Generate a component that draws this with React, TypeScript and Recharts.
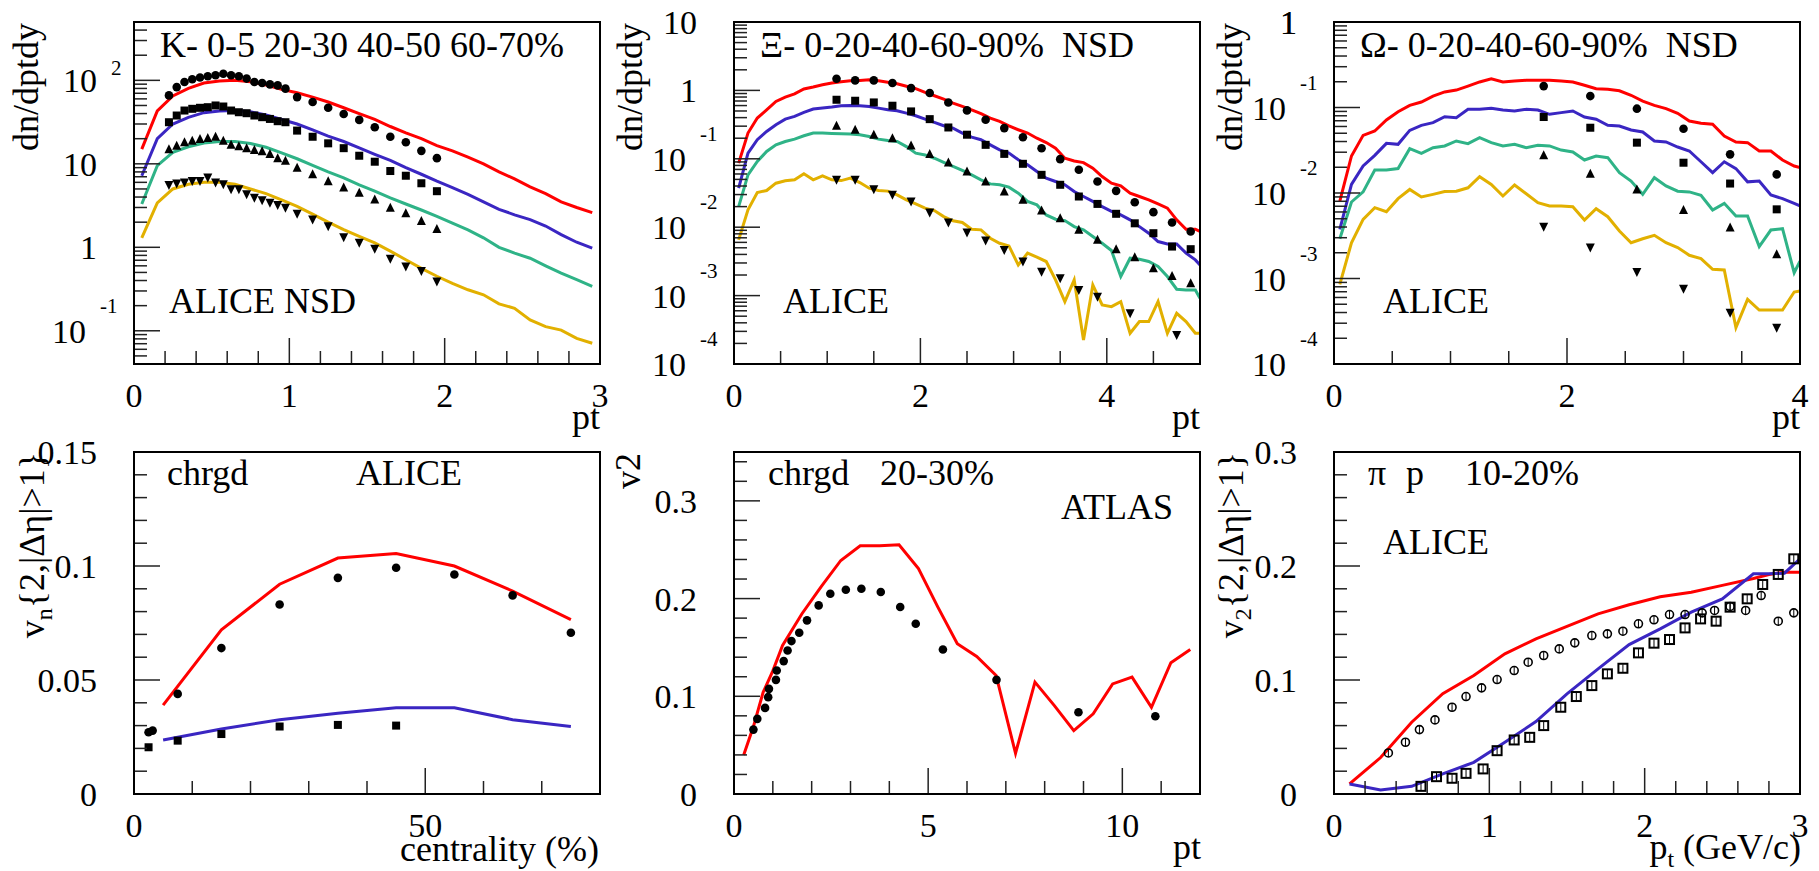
import React from "react";
import { ComposedChart, Line, Scatter, XAxis, YAxis } from "recharts";

const FONT = '"Liberation Serif", "Times New Roman", serif';
const RED = "#ff0000";
const BLUE = "#3a26c2";
const GREEN = "#2fb387";
const YELLOW = "#e2b000";

// ---------- K- spectra (top left)
const kPt = [0.05, 0.15, 0.25, 0.35, 0.45, 0.55, 0.65, 0.75, 0.85, 0.95, 1.05, 1.15, 1.25, 1.35, 1.45, 1.55, 1.65, 1.75, 1.85, 1.95, 2.05, 2.15, 2.25, 2.35, 2.45, 2.55, 2.65, 2.75, 2.85, 2.95];
const kRed = [15, 43, 65, 80, 93, 98, 100, 96, 88, 78, 71, 63, 55, 47, 40, 34, 28, 23.5, 20, 16.5, 14.3, 12, 10, 8, 6.6, 5.3, 4.4, 3.5, 3.0, 2.6];
const kBlue = [7.2, 20, 30, 36, 41, 43, 43.5, 42, 38.5, 34, 30, 25.5, 21.5, 18.5, 15.5, 13, 11, 9, 7.5, 6.2, 5.2, 4.3, 3.5, 2.85, 2.45, 2.15, 1.8, 1.42, 1.15, 0.98];
const kGreen = [3.3, 9.5, 13.7, 16, 17.8, 18.5, 18.5, 17.5, 15.8, 13.5, 11.5, 9.6, 8, 6.8, 5.6, 4.7, 3.9, 3.3, 2.8, 2.35, 1.95, 1.62, 1.3, 1.0, 0.85, 0.74, 0.6, 0.49, 0.41, 0.34];
const kYellow = [1.3, 3.4, 5.0, 5.7, 6.0, 6.0, 5.7, 5.0, 4.4, 3.7, 3.1, 2.5, 2.0, 1.63, 1.35, 1.13, 0.9, 0.71, 0.56, 0.45, 0.37, 0.31, 0.27, 0.21, 0.186, 0.135, 0.112, 0.102, 0.081, 0.071];
const kDataPt = [0.225, 0.275, 0.325, 0.375, 0.425, 0.475, 0.525, 0.575, 0.625, 0.675, 0.725, 0.775, 0.825, 0.875, 0.925, 0.975, 1.05, 1.15, 1.25, 1.35, 1.45, 1.55, 1.65, 1.75, 1.85, 1.95];
const kCirc = [66, 83, 95.5, 103, 108, 112, 115, 120, 115, 112, 105, 95.5, 93, 89.5, 87, 79.5, 63, 55, 47, 39.6, 33.6, 27.4, 21.1, 18.1, 14.3, 11.7];
const kSq = [31.5, 37.9, 43.5, 45.6, 46.9, 47.7, 50, 48.6, 43.5, 41.5, 40.4, 37.9, 36.2, 34.5, 32.4, 31.5, 25, 21.1, 17.6, 15.4, 12.5, 10.6, 8.2, 7.2, 5.85, 4.7];
const kTriUp = [15, 16.5, 18.1, 18.9, 19.8, 20.4, 21.1, 18.9, 16.9, 16.2, 15.4, 14.6, 14.1, 13.1, 11.7, 10.9, 9.0, 7.5, 6.2, 5.2, 4.5, 3.75, 2.98, 2.55, 2.06, 1.66];
const kTriDn = [5.58, 5.8, 5.96, 6.24, 6.24, 6.84, 5.96, 5.69, 4.95, 4.95, 4.31, 3.93, 3.65, 3.42, 3.21, 2.98, 2.52, 2.15, 1.79, 1.32, 1.13, 0.96, 0.73, 0.59, 0.52, 0.39];

// ---------- Xi spectra (top middle)
const xiPt = [0.05, 0.15, 0.25, 0.35, 0.45, 0.55, 0.65, 0.75, 0.85, 0.95, 1.05, 1.15, 1.25, 1.35, 1.45, 1.55, 1.65, 1.75, 1.85, 1.95, 2.05, 2.15, 2.25, 2.35, 2.45, 2.55, 2.65, 2.75, 2.85, 2.95, 3.05, 3.15, 3.25, 3.35, 3.45, 3.55, 3.65, 3.75, 3.85, 3.95, 4.05, 4.15, 4.25, 4.35, 4.45, 4.55, 4.65, 4.75, 4.85, 4.95, 5.0];
const xiRed = [0.0865, 0.238, 0.394, 0.52, 0.69, 0.8, 0.89, 1.05, 1.12, 1.21, 1.28, 1.34, 1.38, 1.4, 1.43, 1.38, 1.32, 1.25, 1.15, 1.06, 0.935, 0.836, 0.747, 0.653, 0.583, 0.52, 0.456, 0.394, 0.352, 0.304, 0.266, 0.238, 0.2, 0.173, 0.143, 0.102, 0.093, 0.088, 0.073, 0.055, 0.044, 0.0403, 0.0315, 0.0281, 0.0251, 0.0219, 0.019, 0.0128, 0.00935, 0.00935, 0.00865];
const xiBlue = [0.0372, 0.121, 0.19, 0.251, 0.315, 0.38, 0.417, 0.476, 0.533, 0.551, 0.57, 0.597, 0.603, 0.597, 0.583, 0.551, 0.52, 0.504, 0.466, 0.426, 0.38, 0.34, 0.304, 0.281, 0.238, 0.207, 0.19, 0.16, 0.135, 0.121, 0.0967, 0.0817, 0.0653, 0.0521, 0.0466, 0.0417, 0.0333, 0.0281, 0.0238, 0.02, 0.017, 0.0151, 0.0128, 0.0102, 0.00817, 0.00617, 0.0057, 0.0057, 0.00417, 0.00333, 0.00281];
const xiGreen = [0.02, 0.0583, 0.0914, 0.128, 0.16, 0.179, 0.194, 0.217, 0.238, 0.238, 0.235, 0.232, 0.23, 0.225, 0.212, 0.194, 0.185, 0.179, 0.151, 0.121, 0.114, 0.102, 0.0884, 0.0772, 0.0675, 0.0583, 0.0493, 0.043, 0.0417, 0.0385, 0.0315, 0.0238, 0.0212, 0.0151, 0.0131, 0.0125, 0.0102, 0.00914, 0.0073, 0.00583, 0.00456, 0.0019, 0.00352, 0.0034, 0.00315, 0.00266, 0.0019, 0.00124, 0.00121, 0.00121, 0.000914];
const xiYellow = [0.00653, 0.0179, 0.0322, 0.0344, 0.044, 0.0477, 0.0493, 0.0603, 0.0493, 0.0564, 0.0493, 0.048, 0.0521, 0.045, 0.0372, 0.0344, 0.0337, 0.0297, 0.0251, 0.0219, 0.019, 0.0175, 0.0143, 0.0124, 0.0117, 0.00935, 0.00914, 0.0069, 0.00583, 0.00533, 0.00281, 0.00417, 0.00364, 0.00315, 0.0017, 0.000817, 0.0017, 0.000225, 0.00143, 0.00073, 0.00069, 0.000817, 0.000281, 0.000417, 0.000417, 0.000817, 0.000281, 0.000551, 0.000417, 0.000281, 0.000281];
const xiDataPt = [1.1, 1.3, 1.5, 1.7, 1.9, 2.1, 2.3, 2.5, 2.7, 2.9, 3.1, 3.3, 3.5, 3.7, 3.9, 4.1, 4.3, 4.5, 4.7, 4.9];
const xiCirc = [1.48, 1.4, 1.4, 1.28, 1.08, 0.914, 0.667, 0.51, 0.372, 0.281, 0.207, 0.143, 0.0989, 0.069, 0.0466, 0.034, 0.0232, 0.0166, 0.0117, 0.00865];
const xiSq = [0.73, 0.706, 0.667, 0.597, 0.493, 0.38, 0.287, 0.225, 0.16, 0.118, 0.0845, 0.0583, 0.0417, 0.0281, 0.0219, 0.0157, 0.0114, 0.00817, 0.00521, 0.00477];
const xiTriUp = [0.304, 0.266, 0.225, 0.2, 0.157, 0.118, 0.0884, 0.0653, 0.0466, 0.0333, 0.0251, 0.0175, 0.0135, 0.00914, 0.00653, 0.00477, 0.00364, 0.00251, 0.00194, 0.00151];
const xiTriDnPt = [1.1, 1.3, 1.5, 1.7, 1.9, 2.1, 2.3, 2.5, 2.7, 2.9, 3.1, 3.3, 3.5, 3.7, 3.9, 4.25, 4.75];
const xiTriDn = [0.0493, 0.0493, 0.036, 0.0297, 0.0238, 0.0164, 0.0117, 0.00835, 0.00638, 0.00466, 0.00315, 0.00224, 0.00179, 0.00121, 0.000966, 0.000551, 0.000266];

// ---------- Omega spectra (top right)
const omPt = [0.05, 0.15, 0.25, 0.35, 0.45, 0.55, 0.65, 0.75, 0.85, 0.95, 1.05, 1.15, 1.25, 1.35, 1.45, 1.55, 1.65, 1.75, 1.85, 1.95, 2.05, 2.15, 2.25, 2.35, 2.45, 2.55, 2.65, 2.75, 2.85, 2.95, 3.05, 3.15, 3.25, 3.35, 3.45, 3.55, 3.65, 3.75, 3.85, 3.95, 4.0];
const omRed = [0.00806, 0.0271, 0.0472, 0.0531, 0.0714, 0.0893, 0.106, 0.116, 0.136, 0.152, 0.16, 0.178, 0.199, 0.217, 0.199, 0.204, 0.208, 0.208, 0.208, 0.204, 0.199, 0.182, 0.166, 0.163, 0.157, 0.139, 0.119, 0.106, 0.0969, 0.0855, 0.0695, 0.0653, 0.0636, 0.0464, 0.0395, 0.0388, 0.031, 0.031, 0.0243, 0.0207, 0.0198];
const omBlue = [0.00376, 0.0126, 0.0207, 0.0276, 0.0381, 0.0371, 0.054, 0.0618, 0.0665, 0.0781, 0.076, 0.0952, 0.0952, 0.0978, 0.0935, 0.091, 0.0952, 0.0935, 0.0832, 0.0871, 0.091, 0.0774, 0.0728, 0.0618, 0.0608, 0.0546, 0.0517, 0.0406, 0.0395, 0.0345, 0.031, 0.0232, 0.0173, 0.0232, 0.0193, 0.0135, 0.0138, 0.00948, 0.00859, 0.00757, 0.00705];
const omGreen = [0.00292, 0.00785, 0.0103, 0.0186, 0.0186, 0.0193, 0.033, 0.0291, 0.0339, 0.0355, 0.0406, 0.0378, 0.0444, 0.0388, 0.0355, 0.0371, 0.0339, 0.0361, 0.0355, 0.0318, 0.0302, 0.0243, 0.0271, 0.0259, 0.0173, 0.0138, 0.00964, 0.0151, 0.0121, 0.0105, 0.0103, 0.0094, 0.00633, 0.00757, 0.00538, 0.00538, 0.00236, 0.00369, 0.00383, 0.00117, 0.0016];
const omYellow = [0.000855, 0.00262, 0.00492, 0.00674, 0.00605, 0.00859, 0.011, 0.00898, 0.00964, 0.0104, 0.0105, 0.0115, 0.0155, 0.0126, 0.00923, 0.0124, 0.00982, 0.0077, 0.00705, 0.00705, 0.00692, 0.00483, 0.00656, 0.00528, 0.0036, 0.00262, 0.00292, 0.0032, 0.00262, 0.0023, 0.00187, 0.00171, 0.00128, 0.00126, 0.000266, 0.00057, 0.000428, 0.000428, 0.000428, 0.000695, 0.000714];
const omDataPt = [1.8, 2.2, 2.6, 3.0, 3.4, 3.8];
const omCirc = [0.178, 0.136, 0.0969, 0.0565, 0.0283, 0.0165];
const omSq = [0.0774, 0.058, 0.0388, 0.0226, 0.0129, 0.00644];
const omTriUp = [0.0276, 0.0168, 0.011, 0.00633, 0.00394, 0.00192];
const omTriDn = [0.00404, 0.0023, 0.00119, 0.00076, 0.000398, 0.000266];

// ---------- vn vs centrality (bottom left)
const cenModel = [5, 15, 25, 35, 45, 55, 65, 75];
const v2Model = [0.039, 0.072, 0.092, 0.1035, 0.1055, 0.1, 0.089, 0.0765];
const v3Model = [0.0237, 0.0285, 0.0326, 0.0354, 0.0378, 0.0378, 0.0326, 0.0296];
const cenV2Data = [2.5, 3.2, 7.5, 15, 25, 35, 45, 55, 65, 75];
const v2Data = [0.0271, 0.0278, 0.0439, 0.064, 0.0831, 0.0948, 0.0992, 0.0963, 0.0871, 0.0707];
const cenV3Data = [2.5, 7.5, 15, 25, 35, 45];
const v3Data = [0.0205, 0.0234, 0.0263, 0.0296, 0.0303, 0.03];

// ---------- ATLAS v2(pt) (bottom middle)
const atlasModelPt = [0.25, 0.5, 0.75, 1.0, 1.25, 1.75, 2.25, 2.75, 3.25, 3.75, 4.25, 4.75, 5.25, 5.75, 6.25, 6.75, 7.25, 7.75, 8.25, 8.75, 9.25, 9.75, 10.25, 10.75, 11.25, 11.75];
const atlasModelV2 = [0.04, 0.069, 0.104, 0.126, 0.152, 0.1845, 0.2125, 0.239, 0.254, 0.254, 0.255, 0.2306, 0.1913, 0.1537, 0.1408, 0.1213, 0.0417, 0.1145, 0.0905, 0.0649, 0.082, 0.1127, 0.1196, 0.0888, 0.1343, 0.1479];
const atlasPt = [0.5, 0.6, 0.8, 0.88, 0.9, 1.08, 1.1, 1.28, 1.38, 1.48, 1.68, 1.88, 2.18, 2.48, 2.88, 3.28, 3.78, 4.28, 4.68, 5.38, 6.76, 8.87, 10.85];
const atlasV2 = [0.0659, 0.0769, 0.0881, 0.0991, 0.1076, 0.1168, 0.1264, 0.136, 0.1469, 0.1565, 0.165, 0.1777, 0.193, 0.205, 0.209, 0.2101, 0.2067, 0.1913, 0.1742, 0.1479, 0.1168, 0.0837, 0.0796];

// ---------- pi / p v2 (bottom right)
const ppModelPt = [0.1, 0.3, 0.5, 0.7, 0.9, 1.1, 1.3, 1.5, 1.7, 1.9, 2.1, 2.3, 2.5, 2.7, 2.8, 2.9, 3.0];
const piModel = [0.0088, 0.032, 0.063, 0.088, 0.104, 0.123, 0.136, 0.147, 0.158, 0.166, 0.173, 0.177, 0.183, 0.189, 0.1926, 0.1946, 0.1946];
const prModel = [0.0088, 0.0035, 0.0067, 0.0176, 0.0278, 0.0454, 0.0635, 0.0878, 0.1097, 0.1311, 0.1449, 0.1595, 0.1712, 0.1932, 0.1932, 0.1937, 0.2063];
const piPt = [0.35, 0.46, 0.55, 0.65, 0.76, 0.85, 0.95, 1.05, 1.16, 1.25, 1.35, 1.45, 1.55, 1.66, 1.76, 1.86, 1.96, 2.06, 2.16, 2.26, 2.37, 2.45, 2.55, 2.65, 2.75, 2.86, 2.96];
const piV2 = [0.036, 0.0454, 0.0565, 0.065, 0.0761, 0.0855, 0.0931, 0.1004, 0.1083, 0.1156, 0.1215, 0.1273, 0.1326, 0.139, 0.1405, 0.1428, 0.1493, 0.1528, 0.1574, 0.1574, 0.1589, 0.161, 0.1645, 0.161, 0.1741, 0.1516, 0.1589];
const prPt = [0.56, 0.66, 0.76, 0.85, 0.96, 1.05, 1.16, 1.26, 1.35, 1.46, 1.56, 1.66, 1.76, 1.86, 1.96, 2.06, 2.16, 2.26, 2.36, 2.46, 2.55, 2.66, 2.76, 2.86, 2.96];
const prV2 = [0.0067, 0.0152, 0.0138, 0.0181, 0.022, 0.038, 0.0474, 0.0497, 0.06, 0.0761, 0.0855, 0.0951, 0.1054, 0.1103, 0.1238, 0.1323, 0.1355, 0.1457, 0.1536, 0.1516, 0.1639, 0.1712, 0.1838, 0.1926, 0.2063];

// ---------- tick labels
type Lab = { v: number; base: string; exp?: string };
const kYLabels: Lab[] = [{ v: 0.1, base: "10", exp: "-1" }, { v: 1, base: "1" }, { v: 10, base: "10" }, { v: 100, base: "10", exp: "2" }];
const xiYLabels: Lab[] = [{ v: 1e-4, base: "10", exp: "-4" }, { v: 1e-3, base: "10", exp: "-3" }, { v: 1e-2, base: "10", exp: "-2" }, { v: 0.1, base: "10", exp: "-1" }, { v: 1, base: "1" }, { v: 10, base: "10" }];
const omYLabels: Lab[] = [{ v: 1e-4, base: "10", exp: "-4" }, { v: 1e-3, base: "10", exp: "-3" }, { v: 1e-2, base: "10", exp: "-2" }, { v: 0.1, base: "10", exp: "-1" }, { v: 1, base: "1" }];
const omTopLabel = "1";
const x03Labels: Lab[] = [{ v: 0, base: "0" }, { v: 1, base: "1" }, { v: 2, base: "2" }, { v: 3, base: "3" }];
const x024Labels: Lab[] = [{ v: 0, base: "0" }, { v: 2, base: "2" }, { v: 4, base: "4" }];
const cenXLabels: Lab[] = [{ v: 0, base: "0" }, { v: 50, base: "50" }];
const atlasXLabels: Lab[] = [{ v: 0, base: "0" }, { v: 5, base: "5" }, { v: 10, base: "10" }];
const cenYLabels: Lab[] = [{ v: 0, base: "0" }, { v: 0.05, base: "0.05" }, { v: 0.1, base: "0.1" }, { v: 0.15, base: "0.15" }];
const v2YLabels: Lab[] = [{ v: 0, base: "0" }, { v: 0.1, base: "0.1" }, { v: 0.2, base: "0.2" }, { v: 0.3, base: "0.3" }];

type Pt = { x: number; y: number };
const zip = (xs: number[], ys: number[]): Pt[] => xs.map((x, i) => ({ x, y: ys[i] }));

const steps = (a: number, b: number, s: number) => {
  const out: number[] = [];
  const n = Math.round((b - a) / s);
  for (let i = 0; i <= n; i++) out.push(+(a + i * s).toFixed(6));
  return out;
};
const logTicks = (lo: number, hi: number) => {
  const out: number[] = [];
  for (let e = -5; e <= 3; e++)
    for (let m = 1; m <= 9; m++) {
      const v = +(m * Math.pow(10, e)).toPrecision(6);
      if (v >= lo * 0.9999 && v <= hi * 1.0001) out.push(v);
    }
  return out;
};
const near = (a: number, b: number) => Math.abs(a - b) <= Math.abs(b) * 1e-6 + 1e-12;

const TICK = "#222";

function makeXTick(labels: Lab[]) {
  return (p: any) => {
    const { x, y, payload } = p;
    const lab = labels.find((l) => near(payload.value, l.v));
    return (
      <g>
        <line x1={x} x2={x} y1={y} y2={y - (lab ? 26 : 13)} stroke={TICK} strokeWidth={1.5} />
        {lab && (
          <text x={x} y={y + 43} textAnchor="middle" fontSize={34} fontFamily={FONT} fill="#000">
            {lab.base}
          </text>
        )}
      </g>
    );
  };
}

function makeYTick(labels: Lab[]) {
  return (p: any) => {
    const { x, y, payload } = p;
    const lab = labels.find((l) => near(payload.value, l.v));
    let txt: React.ReactNode = null;
    if (lab && !lab.exp) {
      txt = (
        <text x={x - 37} y={y + 12} textAnchor="end" fontSize={34} fontFamily={FONT} fill="#000">
          {lab.base}
        </text>
      );
    } else if (lab && lab.exp && lab.exp.startsWith("-")) {
      txt = (
        <g>
          <text x={x - 48} y={y + 12} textAnchor="end" fontSize={34} fontFamily={FONT} fill="#000">{lab.base}</text>
          <text x={x - 34} y={y - 18} textAnchor="start" fontSize={21} fontFamily={FONT} fill="#000">{lab.exp}</text>
        </g>
      );
    } else if (lab && lab.exp) {
      txt = (
        <g>
          <text x={x - 37} y={y + 12} textAnchor="end" fontSize={34} fontFamily={FONT} fill="#000">{lab.base}</text>
          <text x={x - 23} y={y - 5} textAnchor="start" fontSize={21} fontFamily={FONT} fill="#000">{lab.exp}</text>
        </g>
      );
    }
    return (
      <g>
        <line x1={x} x2={x + (lab ? 26 : 13)} y1={y} y2={y} stroke={TICK} strokeWidth={1.5} />
        {txt}
      </g>
    );
  };
}

type Kind = "circle" | "square" | "triUp" | "triDn" | "openCircle" | "openSquare";
function makeShape(kind: Kind) {
  return (p: any) => {
    const { cx, cy } = p;
    if (cx == null || cy == null) return <g />;
    switch (kind) {
      case "circle":
        return <circle cx={cx} cy={cy} r={4.3} fill="#000" />;
      case "square":
        return <rect x={cx - 4} y={cy - 4} width={8} height={8} fill="#000" />;
      case "triUp":
        return <polygon points={`${cx},${cy - 5} ${cx - 4.5},${cy + 4} ${cx + 4.5},${cy + 4}`} fill="#000" />;
      case "triDn":
        return <polygon points={`${cx},${cy + 5} ${cx - 4.5},${cy - 4} ${cx + 4.5},${cy - 4}`} fill="#000" />;
      case "openCircle":
        return (
          <g>
            <circle cx={cx} cy={cy} r={4} fill="none" stroke="#000" strokeWidth={1.6} />
            <line x1={cx} x2={cx} y1={cy - 4} y2={cy + 4} stroke="#000" strokeWidth={1} />
          </g>
        );
      default:
        return (
          <g>
            <rect x={cx - 4.5} y={cy - 4.5} width={9} height={9} fill="none" stroke="#000" strokeWidth={2} />
            <line x1={cx} x2={cx} y1={cy - 4} y2={cy + 4} stroke="#000" strokeWidth={1} />
          </g>
        );
    }
  };
}

type PanelProps = {
  left: number;
  top: number;
  height: number;
  xDomain: [number, number];
  yDomain: [number, number];
  yLog?: boolean;
  xTicks: number[];
  xLabels: Lab[];
  yTicks: number[];
  yLabels: Lab[];
  lines: { data: Pt[]; color: string }[];
  marks: { data: Pt[]; kind: Kind }[];
};

function Panel(p: PanelProps) {
  return (
    <div style={{ position: "absolute", left: p.left, top: p.top }}>
      <ComposedChart width={619} height={p.height} margin={{ top: 22, right: 19, bottom: 0, left: 0 }}>
        <XAxis
          type="number"
          dataKey="x"
          domain={p.xDomain}
          allowDataOverflow
          ticks={p.xTicks}
          interval={0}
          tickSize={0}
          tickMargin={0}
          axisLine={false}
          tickLine={false}
          height={p.height - 364}
          tick={makeXTick(p.xLabels)}
        />
        <YAxis
          type="number"
          dataKey="y"
          scale={p.yLog ? "log" : "linear"}
          domain={p.yDomain}
          allowDataOverflow
          ticks={p.yTicks}
          interval={0}
          tickSize={0}
          tickMargin={0}
          axisLine={false}
          tickLine={false}
          width={134}
          tick={makeYTick(p.yLabels)}
        />
        {p.lines.map((l, i) => (
          <Line key={"l" + i} data={l.data} dataKey="y" type="linear" stroke={l.color} strokeWidth={3} dot={false} isAnimationActive={false} />
        ))}
        {p.marks.map((m, i) => (
          <Scatter key={"s" + i} data={m.data} dataKey="y" shape={makeShape(m.kind)} isAnimationActive={false} />
        ))}
      </ComposedChart>
    </div>
  );
}

const T = { fontFamily: FONT, fontSize: 36, fill: "#000" } as const;

export default function App() {
  return (
    <div style={{ position: "absolute", left: 0, top: 0, width: 1819, height: 871, background: "#fff", overflow: "hidden" }}>
      <Panel
        left={0}
        top={0}
        height={430}
        xDomain={[0, 3]}
        yDomain={[0.04, 500]}
        yLog
        xTicks={steps(0, 3, 0.2)}
        xLabels={x03Labels}
        yTicks={logTicks(0.04, 500)}
        yLabels={kYLabels}
        lines={[
          { data: zip(kPt, kRed), color: RED },
          { data: zip(kPt, kBlue), color: BLUE },
          { data: zip(kPt, kGreen), color: GREEN },
          { data: zip(kPt, kYellow), color: YELLOW },
        ]}
        marks={[
          { data: zip(kDataPt, kCirc), kind: "circle" },
          { data: zip(kDataPt, kSq), kind: "square" },
          { data: zip(kDataPt, kTriUp), kind: "triUp" },
          { data: zip(kDataPt, kTriDn), kind: "triDn" },
        ]}
      />
      <Panel
        left={600}
        top={0}
        height={430}
        xDomain={[0, 5]}
        yDomain={[1e-4, 10]}
        yLog
        xTicks={steps(0, 5, 0.5)}
        xLabels={x024Labels}
        yTicks={logTicks(1e-4, 10)}
        yLabels={xiYLabels}
        lines={[
          { data: zip(xiPt, xiRed), color: RED },
          { data: zip(xiPt, xiBlue), color: BLUE },
          { data: zip(xiPt, xiGreen), color: GREEN },
          { data: zip(xiPt, xiYellow), color: YELLOW },
        ]}
        marks={[
          { data: zip(xiDataPt, xiCirc), kind: "circle" },
          { data: zip(xiDataPt, xiSq), kind: "square" },
          { data: zip(xiDataPt, xiTriUp), kind: "triUp" },
          { data: zip(xiTriDnPt, xiTriDn), kind: "triDn" },
        ]}
      />
      <Panel
        left={1200}
        top={0}
        height={430}
        xDomain={[0, 4]}
        yDomain={[1e-4, 1]}
        yLog
        xTicks={steps(0, 4, 0.5)}
        xLabels={x024Labels}
        yTicks={logTicks(1e-4, 1)}
        yLabels={omYLabels}
        lines={[
          { data: zip(omPt, omRed), color: RED },
          { data: zip(omPt, omBlue), color: BLUE },
          { data: zip(omPt, omGreen), color: GREEN },
          { data: zip(omPt, omYellow), color: YELLOW },
        ]}
        marks={[
          { data: zip(omDataPt, omCirc), kind: "circle" },
          { data: zip(omDataPt, omSq), kind: "square" },
          { data: zip(omDataPt, omTriUp), kind: "triUp" },
          { data: zip(omDataPt, omTriDn), kind: "triDn" },
        ]}
      />
      <Panel
        left={0}
        top={430}
        height={441}
        xDomain={[0, 80]}
        yDomain={[0, 0.15]}
        xTicks={steps(0, 80, 10)}
        xLabels={cenXLabels}
        yTicks={steps(0, 0.15, 0.01)}
        yLabels={cenYLabels}
        lines={[
          { data: zip(cenModel, v2Model), color: RED },
          { data: zip(cenModel, v3Model), color: BLUE },
        ]}
        marks={[
          { data: zip(cenV2Data, v2Data), kind: "circle" },
          { data: zip(cenV3Data, v3Data), kind: "square" },
        ]}
      />
      <Panel
        left={600}
        top={430}
        height={441}
        xDomain={[0, 12]}
        yDomain={[0, 0.35]}
        xTicks={steps(0, 12, 1)}
        xLabels={atlasXLabels}
        yTicks={steps(0, 0.34, 0.02)}
        yLabels={v2YLabels}
        lines={[{ data: zip(atlasModelPt, atlasModelV2), color: RED }]}
        marks={[{ data: zip(atlasPt, atlasV2), kind: "circle" }]}
      />
      <Panel
        left={1200}
        top={430}
        height={441}
        xDomain={[0, 3]}
        yDomain={[0, 0.3]}
        xTicks={steps(0, 3, 0.2)}
        xLabels={x03Labels}
        yTicks={steps(0, 0.3, 0.02)}
        yLabels={v2YLabels}
        lines={[
          { data: zip(ppModelPt, piModel), color: RED },
          { data: zip(ppModelPt, prModel), color: BLUE },
        ]}
        marks={[
          { data: zip(piPt, piV2), kind: "openCircle" },
          { data: zip(prPt, prV2), kind: "openSquare" },
        ]}
      />

      <svg width={1819} height={871} style={{ position: "absolute", left: 0, top: 0, pointerEvents: "none" }}>
        {[134, 734, 1334].map((x) =>
          [22, 452].map((y) => <rect key={x + "-" + y} x={x} y={y} width={466} height={342} fill="none" stroke="#000" strokeWidth={2} />)
        )}

        {/* top label of the Omega log axis sits on the frame edge */}
        <text x={1297} y={34} textAnchor="end" fontSize={34} fontFamily={FONT} fill="#000">{omTopLabel}</text>

        {/* panel texts */}
        <text x={160} y={57} {...T}>K- 0-5 20-30 40-50 60-70%</text>
        <text x={169} y={313} {...T}>ALICE NSD</text>
        <text x={760} y={57} {...T} style={{ whiteSpace: "pre" }}>{"Ξ- 0-20-40-60-90%  NSD"}</text>
        <text x={783} y={313} {...T}>ALICE</text>
        <text x={1360} y={57} {...T} style={{ whiteSpace: "pre" }}>{"Ω- 0-20-40-60-90%  NSD"}</text>
        <text x={1383} y={313} {...T}>ALICE</text>
        <text x={167} y={485} {...T}>chrgd</text>
        <text x={356} y={485} {...T}>ALICE</text>
        <text x={768} y={485} {...T}>chrgd</text>
        <text x={880} y={485} {...T}>20-30%</text>
        <text x={1061} y={519} {...T}>ATLAS</text>
        <text x={1368} y={485} {...T}>π</text>
        <text x={1406} y={485} {...T}>p</text>
        <text x={1465} y={485} {...T}>10-20%</text>
        <text x={1383} y={554} {...T}>ALICE</text>

        {/* axis titles */}
        <text x={600} y={429} textAnchor="end" {...T}>pt</text>
        <text x={1200} y={429} textAnchor="end" {...T}>pt</text>
        <text x={1800} y={429} textAnchor="end" {...T}>pt</text>
        <text x={599} y={861} textAnchor="end" {...T}>centrality (%)</text>
        <text x={1201} y={859} textAnchor="end" {...T}>pt</text>
        <text x={1801} y={859} textAnchor="end" {...T}>
          p<tspan dy={8} fontSize={24}>t</tspan>
          <tspan dy={-8} style={{ whiteSpace: "pre" }}>{" (GeV/c)"}</tspan>
        </text>

        <text x={38} y={23} transform="rotate(-90 38 23)" textAnchor="end" {...T}>dn/dptdy</text>
        <text x={642} y={23} transform="rotate(-90 642 23)" textAnchor="end" {...T}>dn/dptdy</text>
        <text x={1242} y={23} transform="rotate(-90 1242 23)" textAnchor="end" {...T}>dn/dptdy</text>
        <text x={44} y={452} transform="rotate(-90 44 452)" textAnchor="end" {...T}>
          v<tspan dy={8} fontSize={24}>n</tspan>
          <tspan dy={-8}>{"{2,|Δη|>1}"}</tspan>
        </text>
        <text x={640} y={453} transform="rotate(-90 640 453)" textAnchor="end" {...T}>v2</text>
        <text x={1243} y={452} transform="rotate(-90 1243 452)" textAnchor="end" {...T}>
          v<tspan dy={8} fontSize={24}>2</tspan>
          <tspan dy={-8}>{"{2,|Δη|>1}"}</tspan>
        </text>
      </svg>
    </div>
  );
}
